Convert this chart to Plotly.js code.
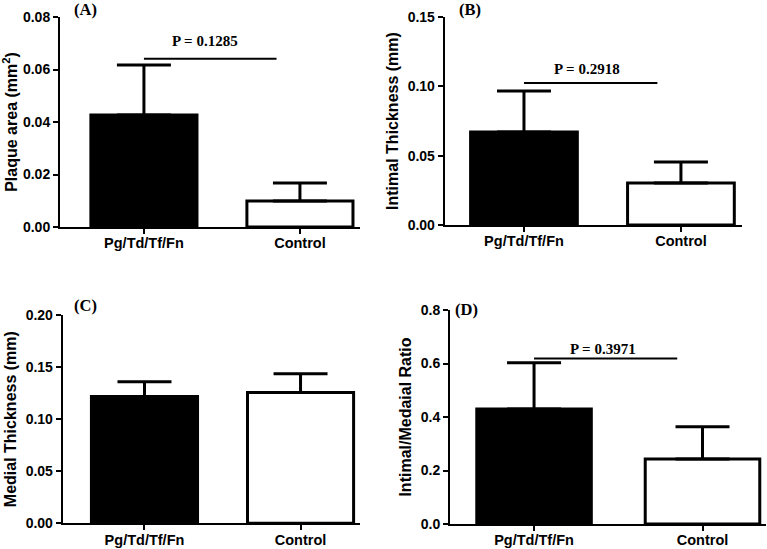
<!DOCTYPE html>
<html>
<head>
<meta charset="utf-8">
<script src="https://cdn.plot.ly/plotly-3.0.1.min.js"></script>
<style>html,body{margin:0;padding:0;background:#fff;}#chart{width:767px;height:549px;}</style>
</head>
<body>
<div id="chart"></div>
<script>
// ---- data ----
const categories = ['Pg/Td/Tf/Fn', 'Control'];
const plaqueArea = [0.0427, 0.0099];
const plaqueAreaSD = [0.0190, 0.0069];
const intimalThickness = [0.0671, 0.0303];
const intimalThicknessSD = [0.0295, 0.0151];
const medialThickness = [0.1217, 0.1256];
const medialThicknessSD = [0.0142, 0.0180];
const intimalMedialRatio = [0.430, 0.243];
const intimalMedialRatioSD = [0.173, 0.121];
const pValues = ['P = 0.1285', 'P = 0.2918', null, 'P = 0.3971'];
const bracketHeights = [0.0641, 0.1024, null, 0.619];
const panelLabels = ['(A)', '(B)', '(C)', '(D)'];
const yTitles = ['Plaque area (mm<sup>2</sup>)', 'Intimal Thickness (mm)', 'Medial Thickness (mm)', 'Intimal/Medaial Ratio'];
const yTickVals = [[0, 0.02, 0.04, 0.06, 0.08], [0, 0.05, 0.10, 0.15], [0, 0.05, 0.10, 0.15, 0.20], [0, 0.2, 0.4, 0.6, 0.8]];
const yFormats = ['.2f', '.2f', '.2f', '.1f'];

const values = [plaqueArea, intimalThickness, medialThickness, intimalMedialRatio];
const sds = [plaqueAreaSD, intimalThicknessSD, medialThicknessSD, intimalMedialRatioSD];

// ---- layout geometry (pixels) ----
const W = 767, H = 549;
const panels = [
  {x0: 60, x1: 360, yTop: 17, yBot: 227, xr: [-0.538, 1.385]},
  {x0: 444.7, x1: 742, yTop: 17, yBot: 225, xr: [-0.505, 1.389]},
  {x0: 62.7, x1: 360, yTop: 315, yBot: 523.3, xr: [-0.524, 1.381]},
  {x0: 450, x1: 766, yTop: 310, yBot: 524, xr: [-0.499, 1.377]}
];
const labelPos = [[85, 10], [470, 10], [85, 305], [466, 309]];
const pTextPos = [[205, 41], [586.5, 69], null, [602.5, 349]];

const traces = [];
const layout = {
  width: W, height: H,
  margin: {l: 0, r: 0, t: 0, b: 0},
  paper_bgcolor: '#fff', plot_bgcolor: 'rgba(0,0,0,0)',
  showlegend: false,
  font: {family: 'Liberation Sans, Arial, sans-serif', color: '#000'},
  annotations: [], shapes: []
};

panels.forEach((p, i) => {
  const n = i === 0 ? '' : String(i + 1);
  traces.push({
    type: 'bar',
    x: categories,
    y: values[i],
    xaxis: 'x' + n, yaxis: 'y' + n,
    width: 0.68,
    marker: {color: ['#000000', '#ffffff'], line: {color: '#000', width: 3}},
    error_y: {type: 'data', symmetric: false, array: sds[i], arrayminus: [0, 0],
              color: '#000', thickness: 3, width: 27},
    hoverinfo: 'none'
  });
  const ymax = yTickVals[i][yTickVals[i].length - 1];
  layout['xaxis' + n] = {
    domain: [p.x0 / W, p.x1 / W],
    anchor: 'y' + n,
    type: 'category',
    range: p.xr,
    showline: true, linecolor: '#000', linewidth: 2,
    ticks: 'outside', ticklen: 5, tickwidth: 2, tickcolor: '#000',
    ticklabelstandoff: -3,
    showgrid: false, zeroline: false,
    tickfont: {size: 14.5, weight: 'bold', color: '#000', family: 'Liberation Sans, Arial, sans-serif'},
    fixedrange: true
  };
  layout['yaxis' + n] = {
    domain: [1 - p.yBot / H, 1 - p.yTop / H],
    anchor: 'x' + n,
    range: [0, ymax],
    tickvals: yTickVals[i],
    tickformat: yFormats[i],
    showline: true, linecolor: '#000', linewidth: 2,
    ticks: 'outside', ticklen: 5, tickwidth: 2, tickcolor: '#000',
    showgrid: false, zeroline: false,
    tickfont: {size: 14, weight: 'bold', color: '#000', family: 'Liberation Sans, Arial, sans-serif'},
    title: {text: yTitles[i], font: {size: 16, weight: 'bold', color: '#000', family: 'Liberation Sans, Arial, sans-serif'}, standoff: 5},
    fixedrange: true
  };
  layout.annotations.push({
    xref: 'paper', yref: 'paper', x: labelPos[i][0] / W, y: 1 - labelPos[i][1] / H,
    text: panelLabels[i], showarrow: false, xanchor: 'center', yanchor: 'middle',
    font: {family: 'Liberation Serif, Times New Roman, serif', size: 16.5, weight: 'bold', color: '#000'}
  });
  if (pValues[i]) {
    layout.annotations.push({
      xref: 'paper', yref: 'paper', x: pTextPos[i][0] / W, y: 1 - pTextPos[i][1] / H,
      text: pValues[i], showarrow: false, xanchor: 'center', yanchor: 'middle',
      font: {family: 'Liberation Serif, Times New Roman, serif', size: 15, weight: 'bold', color: '#000'}
    });
    layout.shapes.push({
      type: 'line', xref: 'x' + n, yref: 'y' + n,
      x0: 0, x1: 0.85, y0: bracketHeights[i], y1: bracketHeights[i],
      line: {color: '#000', width: 2}
    });
  }
});

Plotly.newPlot('chart', traces, layout, {displayModeBar: false, staticPlot: true});
</script>
</body>
</html>
